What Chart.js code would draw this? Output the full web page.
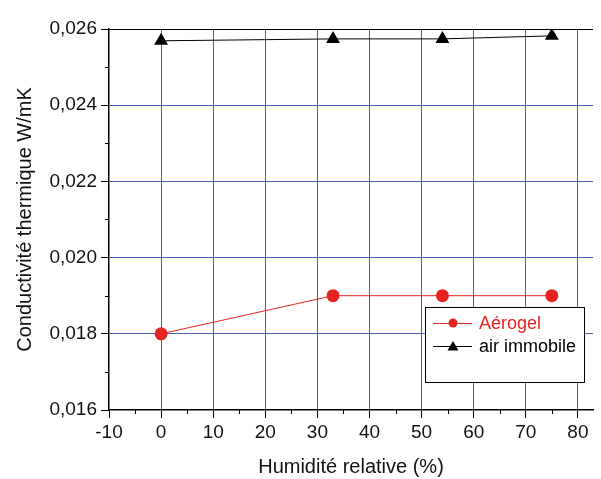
<!DOCTYPE html>
<html>
<head>
<meta charset="utf-8">
<script src="https://cdn.jsdelivr.net/npm/chart.js@4/dist/chart.umd.min.js"></script>
<style>
  html, body { margin: 0; padding: 0; background: #fff; }
  canvas { display: block; }
</style>
</head>
<body>
<canvas id="chart" width="601" height="479"></canvas>
<script>
// Data
const humidity = [0, 33, 54, 75];
const aerogel = [0.0180, 0.0190, 0.0190, 0.0190];
const stillAir = [0.02569, 0.02574, 0.02574, 0.02582];
const seriesLabels = ["Aérogel", "air immobile"];
const xTitle = "Humidité relative (%)";
const yTitle = "Conductivité thermique W/mK";

const RED = "#e52421";
const GRID = "#4a5cae";
const NONE = "rgba(255,255,255,0)";
const FONT = "'Liberation Sans', Arial, sans-serif";

const toPoints = (ys) => humidity.map((x, i) => ({ x, y: ys[i] }));

// minor ticks, top frame line and the boxed legend
const decorations = {
  id: "decorations",
  afterDraw(chart) {
    const { ctx, chartArea, scales } = chart;
    const xs = scales.x, ys = scales.y;
    ctx.save();
    ctx.strokeStyle = "#000";
    ctx.lineWidth = 1;

    // top frame
    ctx.beginPath();
    ctx.moveTo(chartArea.left, chartArea.top + 0.5);
    ctx.lineTo(chartArea.right, chartArea.top + 0.5);
    ctx.stroke();

    // minor ticks
    ctx.beginPath();
    for (let v = -5; v < xs.max; v += 10) {
      const px = Math.round(xs.getPixelForValue(v)) + 0.5;
      ctx.moveTo(px, chartArea.bottom);
      ctx.lineTo(px, chartArea.bottom + 4);
    }
    for (let v = 0.017; v < 0.026; v += 0.002) {
      const py = Math.round(ys.getPixelForValue(v)) + 0.5;
      ctx.moveTo(chartArea.left, py);
      ctx.lineTo(chartArea.left - 4, py);
    }
    ctx.stroke();

    // legend
    const bx = 425, by = 307, bw = 159, bh = 75;
    ctx.fillStyle = "#fff";
    ctx.fillRect(bx, by, bw, bh);
    ctx.strokeStyle = "#000";
    ctx.strokeRect(bx + 0.5, by + 0.5, bw, bh);

    const rows = [
      { label: seriesLabels[0], color: RED, y: 323, marker: "circle" },
      { label: seriesLabels[1], color: "#000", y: 346, marker: "triangle" },
    ];
    ctx.font = "18px " + FONT;
    ctx.textBaseline = "middle";
    rows.forEach((r) => {
      ctx.strokeStyle = r.color;
      ctx.fillStyle = r.color;
      ctx.beginPath();
      ctx.moveTo(433, r.y + 0.5);
      ctx.lineTo(472, r.y + 0.5);
      ctx.stroke();
      ctx.beginPath();
      if (r.marker === "circle") {
        ctx.arc(453, r.y, 4.5, 0, Math.PI * 2);
      } else {
        ctx.moveTo(453, r.y - 5);
        ctx.lineTo(458.5, r.y + 4.5);
        ctx.lineTo(447.5, r.y + 4.5);
        ctx.closePath();
      }
      ctx.fill();
      ctx.fillText(r.label, 479, r.y + 1);
    });
    ctx.restore();
  },
};

new Chart(document.getElementById("chart"), {
  type: "scatter",
  data: {
    datasets: [
      {
        label: seriesLabels[0],
        data: toPoints(aerogel),
        showLine: true,
        borderColor: RED,
        backgroundColor: RED,
        borderWidth: 1,
        pointRadius: 6.5,
        pointHoverRadius: 6.5,
        pointBorderWidth: 0,
        pointStyle: "circle",
      },
      {
        label: seriesLabels[1],
        data: toPoints(stillAir),
        showLine: true,
        borderColor: "#000",
        backgroundColor: "#000",
        borderWidth: 1,
        pointRadius: 8,
        pointHoverRadius: 8,
        pointBorderWidth: 0,
        pointStyle: "triangle",
      },
    ],
  },
  options: {
    responsive: false,
    animation: false,
    devicePixelRatio: 1,
    layout: { padding: { top: 29, right: 0, left: 0, bottom: 0 } },
    plugins: { legend: { display: false }, tooltip: { enabled: false } },
    scales: {
      x: {
        type: "linear",
        min: -10,
        max: 82.9,
        afterFit: (s) => { s.height = 69; },
        ticks: {
          stepSize: 10,
          includeBounds: false,
          padding: 3,
          color: "#111",
          font: { family: FONT, size: 19 },
          callback: (v) => (v % 10 === 0 ? String(v) : ""),
        },
        grid: {
          color: (c) => (c.tick && c.tick.value <= -10 ? NONE : GRID),
          tickColor: "#000",
          tickLength: 8,
          lineWidth: 1,
        },
        border: { color: "#000", width: 1.5 },
        title: {
          display: true,
          text: xTitle,
          color: "#111",
          font: { family: FONT, size: 20 },
          padding: { top: 0, bottom: 0 },
        },
      },
      y: {
        type: "linear",
        min: 0.016,
        max: 0.026,
        afterFit: (s) => { s.width = 109; },
        ticks: {
          stepSize: 0.002,
          padding: 4,
          color: "#111",
          font: { family: FONT, size: 19 },
          callback: (v) => v.toFixed(3).replace(".", ","),
        },
        grid: {
          color: (c) => {
            const v = c.tick ? c.tick.value : 0;
            if (v <= 0.0160001 || v >= 0.0259999) return NONE;
            return GRID;
          },
          tickColor: "#000",
          tickLength: 8,
          lineWidth: 1,
        },
        border: { color: "#000", width: 1.5 },
        title: {
          display: true,
          text: yTitle,
          color: "#111",
          font: { family: FONT, size: 20 },
          padding: { top: 13, bottom: 0 },
        },
      },
    },
  },
  plugins: [decorations],
});
</script>
</body>
</html>
